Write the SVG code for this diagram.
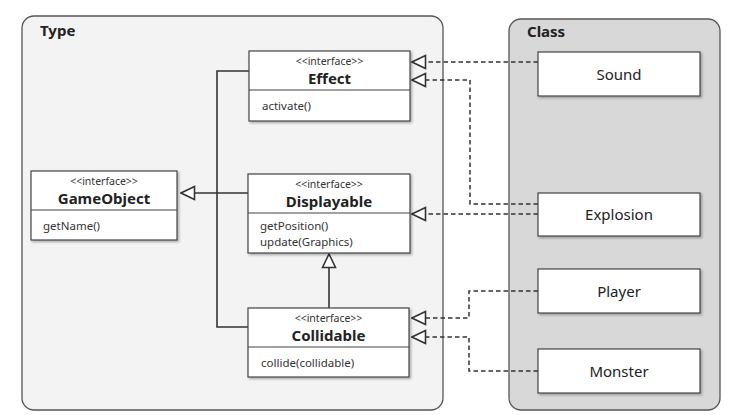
<svg xmlns="http://www.w3.org/2000/svg" width="737" height="415" viewBox="0 0 737 415">
<defs>
<style>
.cont{stroke:#555;stroke-width:1.3}
.box{fill:#fff;stroke:#444;stroke-width:1.2;filter:url(#sh)}
.div{stroke:#444;stroke-width:1.2}
.st{font-family:"Noto Sans",sans-serif;font-size:10.5px;fill:#333;text-anchor:middle}
.nm{font-family:"Noto Sans",sans-serif;font-size:15px;font-weight:bold;fill:#222;text-anchor:middle}
.op{font-family:"Noto Sans",sans-serif;font-size:11.5px;fill:#333}
.ttl{font-family:"Noto Sans",sans-serif;font-size:15px;font-weight:bold;fill:#222}
.cl{font-family:"Noto Sans",sans-serif;font-size:15px;fill:#222;text-anchor:middle}
.ln{fill:none;stroke:#333;stroke-width:1.6}
.dl{fill:none;stroke:#333;stroke-width:1.5;stroke-dasharray:4.5 3}
</style>
<filter id="sh" x="-10%" y="-10%" width="125%" height="130%">
<feDropShadow dx="1.5" dy="1.5" stdDeviation="1" flood-color="#000" flood-opacity="0.3"/>
</filter>
<marker id="tri" viewBox="0 0 16 16" refX="15" refY="8" markerWidth="16" markerHeight="16" markerUnits="userSpaceOnUse" orient="auto">
<path d="M1.5,1.5 L15,8 L1.5,14.5 Z" fill="#fff" stroke="#333" stroke-width="1.6"/>
</marker>
</defs>
<rect width="737" height="415" fill="#fff"/>
<g id="type-container">
<rect class="cont" x="22" y="16" width="421" height="394" rx="12" fill="#f3f3f3"/>
<text class="ttl" x="40" y="36">Type</text>
</g>
<g id="class-container">
<rect class="cont" x="509" y="19" width="211" height="391" rx="12" fill="#d8d8d8"/>
<text class="ttl" x="527" y="37">Class</text>
</g>
<g id="connectors">
<path class="ln" d="M249,71 H217 V327 H248"/>
<path class="ln" d="M248,193 H181" marker-end="url(#tri)"/>
<path class="ln" d="M329,308 V254" marker-end="url(#tri)"/>
<path class="dl" d="M538,62 H412" marker-end="url(#tri)"/>
<path class="dl" d="M538,204 H470 V80 H412" marker-end="url(#tri)"/>
<path class="dl" d="M538,214 H412" marker-end="url(#tri)"/>
<path class="dl" d="M538,291 H469 V318 H412" marker-end="url(#tri)"/>
<path class="dl" d="M538,371 H469 V337 H412" marker-end="url(#tri)"/>
</g>
<g id="Effect">
<rect class="box" x="249" y="51" width="161" height="70"/>
<line class="div" x1="249" y1="90" x2="410" y2="90"/>
<text class="st" x="329.5" y="65">&lt;&lt;interface&gt;&gt;</text>
<text class="nm" x="329.5" y="84">Effect</text>
<text class="op" x="262" y="110">activate()</text>
</g>
<g id="Displayable">
<rect class="box" x="248" y="174" width="162" height="79"/>
<line class="div" x1="248" y1="213" x2="410" y2="213"/>
<text class="st" x="329" y="188">&lt;&lt;interface&gt;&gt;</text>
<text class="nm" x="329" y="207">Displayable</text>
<text class="op" x="260" y="230">getPosition()</text>
<text class="op" x="260" y="246">update(Graphics)</text>
</g>
<g id="GameObject">
<rect class="box" x="31" y="171" width="146" height="69"/>
<line class="div" x1="31" y1="210" x2="177" y2="210"/>
<text class="st" x="104" y="185">&lt;&lt;interface&gt;&gt;</text>
<text class="nm" x="104" y="204">GameObject</text>
<text class="op" x="43" y="230">getName()</text>
</g>
<g id="Collidable">
<rect class="box" x="248" y="308" width="161" height="69"/>
<line class="div" x1="248" y1="347" x2="409" y2="347"/>
<text class="st" x="328.5" y="322">&lt;&lt;interface&gt;&gt;</text>
<text class="nm" x="328.5" y="341">Collidable</text>
<text class="op" x="261" y="367">collide(collidable)</text>
</g>
<g id="Sound">
<rect class="box" x="538" y="52" width="162" height="44"/>
<text class="cl" x="619" y="80">Sound</text>
</g>
<g id="Explosion">
<rect class="box" x="538" y="193" width="162" height="43"/>
<text class="cl" x="619" y="220">Explosion</text>
</g>
<g id="Player">
<rect class="box" x="538" y="269" width="162" height="44"/>
<text class="cl" x="619" y="297">Player</text>
</g>
<g id="Monster">
<rect class="box" x="538" y="349" width="162" height="44"/>
<text class="cl" x="619" y="377">Monster</text>
</g>
</svg>
